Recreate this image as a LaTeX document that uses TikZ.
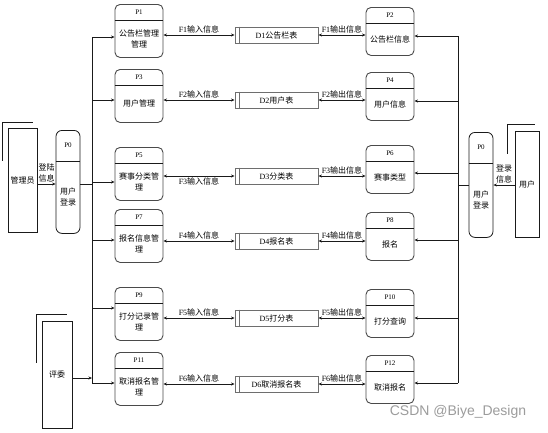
\documentclass[tikz,border=0pt]{standalone}
\usepackage{fontspec}
\setmainfont{Liberation Serif}
\newfontfamily\cjk{Noto Sans CJK SC}
\newfontfamily\marksans{Liberation Sans}
\usepackage{tikz}
\usepackage{xcolor}
\usetikzlibrary{arrows.meta,positioning,calc}
\definecolor{ink}{HTML}{1A1A1A}
\definecolor{boxgray}{HTML}{4A4A4A}
\definecolor{storegray}{HTML}{6E6E6E}
\definecolor{markgray}{HTML}{9C9C9C}
\tikzset{
  procbox/.style={draw=boxgray,line width=0.9pt,rounded corners=5pt,
                  minimum width=48pt,inner sep=0pt},
  loginbox/.style={draw=ink,line width=0.8pt,rounded corners=6pt,
                   minimum width=24pt,inner sep=0pt},
  procrule/.style={draw=ink,line width=0.9pt},
  procid/.style={font=\rmfamily\fontsize{7}{8}\selectfont,inner sep=0pt},
  proctext/.style={font=\cjk\fontsize{8}{11}\selectfont,align=center,
                   inner sep=0pt},
  storebox/.style={draw=storegray,line width=0.9pt,minimum width=83pt,
                   minimum height=16pt,inner sep=0pt,
                   font=\cjk\fontsize{8}{9}\selectfont},
  extbox/.style={draw=ink,line width=0.8pt,inner sep=0pt,
                 font=\cjk\fontsize{8}{9}\selectfont},
  shadowline/.style={draw=ink,line width=0.8pt},
  busline/.style={draw=ink,line width=0.8pt},
  flowarr/.style={-{Stealth[length=3.5pt,width=3pt]},line width=0.8pt,draw=ink},
  biarr/.style={{Stealth[length=3.5pt,width=3pt]}-{Stealth[length=3.5pt,width=3pt]},
                line width=0.8pt,draw=ink},
  flowlbl/.style={font=\cjk\fontsize{8}{9}\selectfont,inner sep=1pt},
  loglbl/.style={font=\cjk\fontsize{8}{11}\selectfont,align=center,inner sep=1.5pt}
}
\newcommand{\proc}[6]{%
  \node[procbox,minimum height=#4pt,anchor=north] (#1) at (#2,#3) {};
  \draw[procrule] ([yshift=-16pt]#1.north west) -- ([yshift=-16pt]#1.north east);
  \node[procid] (#1-id) at ([yshift=-8pt]#1.north) {#5};
  \node[proctext] (#1-txt) at ([yshift={-(8+#4/2)*1pt}]#1.north) {#6};
}

\begin{document}
\begin{tikzpicture}[x=1pt,y=-1pt]
    \path[use as bounding box,fill=white] (0,0) rectangle (548,432);
    % external entities
    \node[extbox,minimum width=29pt,minimum height=104pt] (admin) at (22.5,180) {管理员};
    \node[extbox,minimum width=24pt,minimum height=106pt] (user) at (527,184) {用户};
    \node[extbox,minimum width=30pt,minimum height=107pt] (judge) at (57,374.5) {评委};
    \draw[shadowline] ($(admin.north west)+(-5,33)$) -- ($(admin.north west)+(-5,-5)$)
      -- ($(admin.north west)+(25,-5)$);
    \draw[shadowline] ($(user.north west)+(-7,23)$) -- ($(user.north west)+(-7,-6)$)
      -- ($(user.north west)+(20,-6)$);
    \draw[shadowline] ($(judge.north west)+(-5,42)$) -- ($(judge.north west)+(-5,-6)$)
      -- ($(judge.north west)+(25,-6)$);
    % login processes
    \node[loginbox,minimum height=103pt,anchor=north] (lp0) at (68,130) {};
    \draw[procrule] ([yshift=-31pt]lp0.north west) -- ([yshift=-31pt]lp0.north east);
    \node[procid] (lp0-id) at ([yshift=-15pt]lp0.north) {P0};
    \node[proctext] (lp0-txt) at ([yshift=-67pt]lp0.north) {用户\\登录};
    \node[loginbox,minimum height=105pt,anchor=north] (rp0) at (481,132) {};
    \draw[procrule] ([yshift=-31pt]rp0.north west) -- ([yshift=-31pt]rp0.north east);
    \node[procid] (rp0-id) at ([yshift=-15pt]rp0.north) {P0};
    \node[proctext] (rp0-txt) at ([yshift=-68pt]rp0.north) {用户\\登录};
    % processes
    \proc{p1}{139}{4}{53}{P1}{公告栏管理\\管理}
    \proc{p3}{139}{69}{53}{P3}{用户管理}
    \proc{p5}{139}{147}{53}{P5}{赛事分类管\\理}
    \proc{p7}{139}{209}{53}{P7}{报名信息管\\理}
    \proc{p9}{139}{287}{53}{P9}{打分记录管\\理}
    \proc{p11}{139}{352}{53}{P11}{取消报名管\\理}
    \proc{p2}{390}{7}{48}{P2}{公告栏信息}
    \proc{p4}{390}{72}{48}{P4}{用户信息}
    \proc{p6}{390}{145}{48}{P6}{赛事类型}
    \proc{p8}{390}{212}{48}{P8}{报名}
    \proc{p10}{390}{289}{48}{P10}{打分查询}
    \proc{p12}{390}{355}{48}{P12}{取消报名}
    % data stores
    \node[storebox] (d1) at (276.5,35) {\textrm{D1}公告栏表};
    \node[storebox] (d2) at (276.5,100) {\textrm{D2}用户表};
    \node[storebox] (d3) at (276.5,176) {\textrm{D3}分类表};
    \node[storebox] (d4) at (276.5,241) {\textrm{D4}报名表};
    \node[storebox] (d5) at (276.5,318) {\textrm{D5}打分表};
    \node[storebox] (d6) at (276.5,384) {\textrm{D6}取消报名表};
    \foreach \d in {d1,d2,d3,d4,d5,d6}
      \draw[storegray,line width=0.9pt] ([xshift=5pt]\d.north west) -- ([xshift=5pt]\d.south west);
    % buses
    \coordinate (lb0) at (92,184);
    \coordinate (lb1) at (92,37);
    \coordinate (lb3) at (92,100);
    \coordinate (lb5) at (92,182);
    \coordinate (lb7) at (92,240);
    \coordinate (lb9) at (92,308);
    \coordinate (lb11) at (92,383);
    \coordinate (lbj) at (92,378);
    \coordinate (rb0) at (458,185);
    \coordinate (rb2) at (458,36);
    \coordinate (rb4) at (458,101);
    \coordinate (rb6) at (458,173);
    \coordinate (rb8) at (458,240);
    \coordinate (rb10) at (458,318);
    \coordinate (rb12) at (458,383);
    \draw[busline] (lb1) -- (lb11);
    \draw[busline] (rb2) -- (rb12);
    \draw[flowarr] (admin.east |- lb0) -- (lb0 -| lp0.west)
      node[loglbl,midway,above] {登陆\\信息};
    \draw[busline] (lp0.east |- lb0) -- (lb0);
    \draw[flowarr] (user.west |- rb0) -- (rb0 -| rp0.east)
      node[loglbl,midway,above] {登录\\信息};
    \draw[busline] (rp0.west |- rb0) -- (rb0);
    \draw[flowarr] (judge.east |- lbj) -- (lbj);
    \draw[flowarr] (lb1) -- (lb1 -| p1.west);
    \draw[flowarr] (lb3) -- (lb3 -| p3.west);
    \draw[flowarr] (lb5) -- (lb5 -| p5.west);
    \draw[flowarr] (lb7) -- (lb7 -| p7.west);
    \draw[flowarr] (lb9) -- (lb9 -| p9.west);
    \draw[flowarr] (lb11) -- (lb11 -| p11.west);
    \draw[flowarr] (rb2) -- (rb2 -| p2.east);
    \draw[flowarr] (rb4) -- (rb4 -| p4.east);
    \draw[flowarr] (rb6) -- (rb6 -| p6.east);
    \draw[flowarr] (rb8) -- (rb8 -| p8.east);
    \draw[flowarr] (rb10) -- (rb10 -| p10.east);
    \draw[flowarr] (rb12) -- (rb12 -| p12.east);
    % flows to and from the stores
    \draw[biarr] (d1.west -| p1.east) -- (d1.west) node[flowlbl,midway,above] {\textrm{F1}输入信息};
    \draw[biarr] (d2.west -| p3.east) -- (d2.west) node[flowlbl,midway,above] {\textrm{F2}输入信息};
    \draw[biarr] (d3.west -| p5.east) -- (d3.west) node[flowlbl,midway,below] {\textrm{F3}输入信息};
    \draw[biarr] (d4.west -| p7.east) -- (d4.west) node[flowlbl,midway,above] {\textrm{F4}输入信息};
    \draw[biarr] (d5.west -| p9.east) -- (d5.west) node[flowlbl,midway,above] {\textrm{F5}输入信息};
    \draw[biarr] (d6.west -| p11.east) -- (d6.west) node[flowlbl,midway,above] {\textrm{F6}输入信息};
    \draw[biarr] (d1.east) -- (d1.east -| p2.west) node[flowlbl,midway,above] {\textrm{F1}输出信息};
    \draw[biarr] (d2.east) -- (d2.east -| p4.west) node[flowlbl,midway,above] {\textrm{F2}输出信息};
    \draw[biarr] (d3.east) -- (d3.east -| p6.west) node[flowlbl,midway,above] {\textrm{F3}输出信息};
    \draw[biarr] (d4.east) -- (d4.east -| p8.west) node[flowlbl,midway,above] {\textrm{F4}输出信息};
    \draw[biarr] (d5.east) -- (d5.east -| p10.west) node[flowlbl,midway,above] {\textrm{F5}输出信息};
    \draw[biarr] (d6.east) -- (d6.east -| p12.west) node[flowlbl,midway,above] {\textrm{F6}输出信息};
    \node[font=\marksans\fontsize{14}{16}\selectfont,text=markgray,inner sep=0pt]
      (mark) at (458,412) {CSDN @Biye\_Design};
\end{tikzpicture}
\end{document}
